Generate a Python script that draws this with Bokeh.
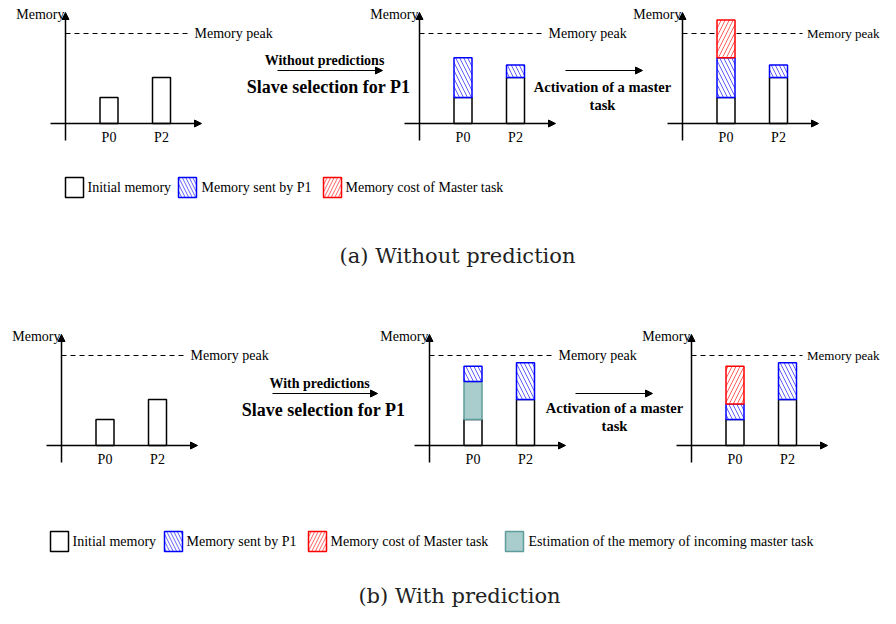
from bokeh.plotting import figure
from bokeh.models import Range1d, Arrow, NormalHead
from bokeh.core.properties import value
from bokeh.embed import file_html
from bokeh.resources import INLINE

# ---------------- data (memory units, memory peak = 100) ----------------
processes = ["P0", "P2"]
memory_peak = 100
axis_label = "Memory"
peak_label = "Memory peak"

# (a) without prediction
a_initial = [29, 51]
a_sent_by_p1 = [44, 14]
a_master_cost = [42, 0]

# (b) with prediction
b_initial = [29, 51]
b_estimation = [42, 0]
b_sent_by_p1 = [17, 41]
b_master_cost = [42, 0]

legend_labels_a = ["Initial memory", "Memory sent by P1", "Memory cost of Master task"]
legend_labels_b = ["Initial memory", "Memory sent by P1", "Memory cost of Master task",
                   "Estimation of the memory of incoming master task"]
step_labels_a = ["Without predictions", "Slave selection for P1", "Activation of a master", "task"]
step_labels_b = ["With predictions", "Slave selection for P1", "Activation of a master", "task"]
captions = ["(a) Without prediction", "(b) With prediction"]

# ---------------- layout ----------------
FX0, FX1, FY0, FY1 = 0, 880, 0, 608
KY = 0.9                       # px per memory unit
ROW_AXIS_Y = {"a": 123, "b": 445}
PANEL_X0 = {"a": [65, 419, 682], "b": [61, 429, 691]}
BAR_OFFSETS = [43.5, 96]
BAR_W = 18
SERIF = value("Liberation Serif")

STYLES = {
    "init": dict(fill_color="white", line_color="black", line_width=1.5),
    "sent": dict(fill_color="white", line_color="#0000ff", line_width=1.5,
                 hatch_pattern="\\", hatch_color="#6060ff", hatch_scale=8, hatch_weight=1),
    "master": dict(fill_color="white", line_color="#ff0000", line_width=1.5,
                   hatch_pattern="/", hatch_color="#ff6060", hatch_scale=8, hatch_weight=1),
    "est": dict(fill_color="#a9cdcd", line_color="#5f9c9c", line_width=1.5),
}

p = figure(width=FX1 - FX0, height=FY1 - FY0, x_range=Range1d(FX0, FX1), y_range=Range1d(FY1, FY0),
           output_backend="svg", toolbar_location=None, x_axis_type=None, y_axis_type=None,
           min_border=0)
p.grid.visible = False
p.outline_line_color = None
p.background_fill_color = "white"


def head(size=7):
    return NormalHead(size=size, fill_color="black", line_color="black", line_width=1)


def add_panel(row, idx, layers):
    X0 = PANEL_X0[row][idx]
    AY = ROW_AXIS_Y[row]
    xr = f"x_{row}{idx}"
    yr = f"y_{row}"
    p.extra_x_ranges[xr] = Range1d(FX0 - X0, FX1 - X0)
    if yr not in p.extra_y_ranges:
        p.extra_y_ranges[yr] = Range1d((AY - FY1) / KY, (AY - FY0) / KY)
    kw = dict(x_range_name=xr, y_range_name=yr)

    # peak line + label (label kept inside the right edge of the page)
    label_x, dash_end, fs, align = 129, 125, "14px", "left"
    if X0 + 129 + 80 > FX1:
        label_x, dash_end, fs, align = FX1 - 1 - X0, FX1 - 78 - X0, "13px", "right"
    p.line([0, dash_end], [memory_peak, memory_peak], line_color="black", line_width=1,
           line_dash="5 4", **kw)
    p.text(x=[label_x], y=[memory_peak], text=[peak_label], text_font=SERIF, text_font_size=fs,
           text_baseline="middle", text_align=align, text_color="black", **kw)

    # stacked bars
    bottoms = [0.0] * len(processes)
    for vals, style in layers:
        left, right, bot, top = [], [], [], []
        for i, v in enumerate(vals):
            if v <= 0:
                continue
            c = BAR_OFFSETS[i]
            left.append(c - BAR_W / 2)
            right.append(c + BAR_W / 2)
            bot.append(bottoms[i])
            top.append(bottoms[i] + v)
            bottoms[i] += v
        p.quad(left=left, right=right, bottom=bot, top=top, **STYLES[style], **kw)

    # axes
    p.add_layout(Arrow(end=head(), x_start=0, y_start=-17 / KY, x_end=0, y_end=111 / KY,
                       line_width=1.5, line_color="black", **kw))
    p.add_layout(Arrow(end=head(), x_start=-15, y_start=0, x_end=136, y_end=0,
                       line_width=1.5, line_color="black", **kw))
    p.text(x=[-1], y=[109 / KY], text=[axis_label], text_font=SERIF, text_font_size="14px",
           text_baseline="middle", text_align="right", text_color="black", **kw)
    p.text(x=BAR_OFFSETS, y=[-14 / KY] * len(processes), text=processes, text_font=SERIF,
           text_font_size="14px", text_baseline="middle", text_align="center",
           text_color="black", **kw)


# (a)
add_panel("a", 0, [(a_initial, "init")])
add_panel("a", 1, [(a_initial, "init"), (a_sent_by_p1, "sent")])
add_panel("a", 2, [(a_initial, "init"), (a_sent_by_p1, "sent"), (a_master_cost, "master")])
# (b)
add_panel("b", 0, [(b_initial, "init")])
add_panel("b", 1, [(b_initial, "init"), (b_estimation, "est"), (b_sent_by_p1, "sent")])
add_panel("b", 2, [(b_initial, "init"), (b_sent_by_p1, "sent"), (b_master_cost, "master")])


def step(labels, cx1, y_top, arrow1, cx2, y_act, arrow2, arrow_y):
    p.text(x=[cx1], y=[y_top], text=[labels[0]], text_font=SERIF, text_font_size="14px",
           text_font_style="bold", text_align="center", text_baseline="middle")
    p.add_layout(Arrow(end=head(7), x_start=arrow1[0], y_start=arrow_y, x_end=arrow1[1],
                       y_end=arrow_y, line_width=1.2))
    p.text(x=[cx1 + 4], y=[y_top + 26], text=[labels[1]], text_font=SERIF, text_font_size="18px",
           text_font_style="bold", text_align="center", text_baseline="middle")
    p.add_layout(Arrow(end=head(7), x_start=arrow2[0], y_start=arrow_y, x_end=arrow2[1],
                       y_end=arrow_y, line_width=1.2))
    p.text(x=[cx2, cx2], y=[y_act, y_act + 18], text=labels[2:4], text_font=SERIF,
           text_font_size="14.5px", text_font_style="bold", text_align="center",
           text_baseline="middle")


step(step_labels_a, 324, 60, (277, 382), 602, 86, (565, 642), 70)
step(step_labels_b, 319, 383, (272, 377), 614, 407, (575, 652), 393)


def legend(labels, box_x, text_x, yc):
    keys = ["init", "sent", "master", "est"]
    for lab, bx, tx, key in zip(labels, box_x, text_x, keys):
        st = dict(STYLES[key])
        if "hatch_scale" in st:
            st["hatch_scale"] = 7
        p.quad(left=[bx], right=[bx + 18], bottom=[yc + 10], top=[yc - 10], **st)
        p.text(x=[tx], y=[yc], text=[lab], text_font=SERIF, text_font_size="14px",
               text_align="left", text_baseline="middle", text_color="black")


legend(legend_labels_a, [65, 178, 323], [87, 201, 345], 187)
legend(legend_labels_b, [50, 164, 308, 505], [72, 186, 330, 528], 541)

p.text(x=[457, 459], y=[255, 595], text=captions, text_font=value("DejaVu Serif"),
       text_font_size="21px", text_align="center", text_baseline="middle", text_color="#222222")

open("out.html", "w").write(file_html(p, INLINE))
